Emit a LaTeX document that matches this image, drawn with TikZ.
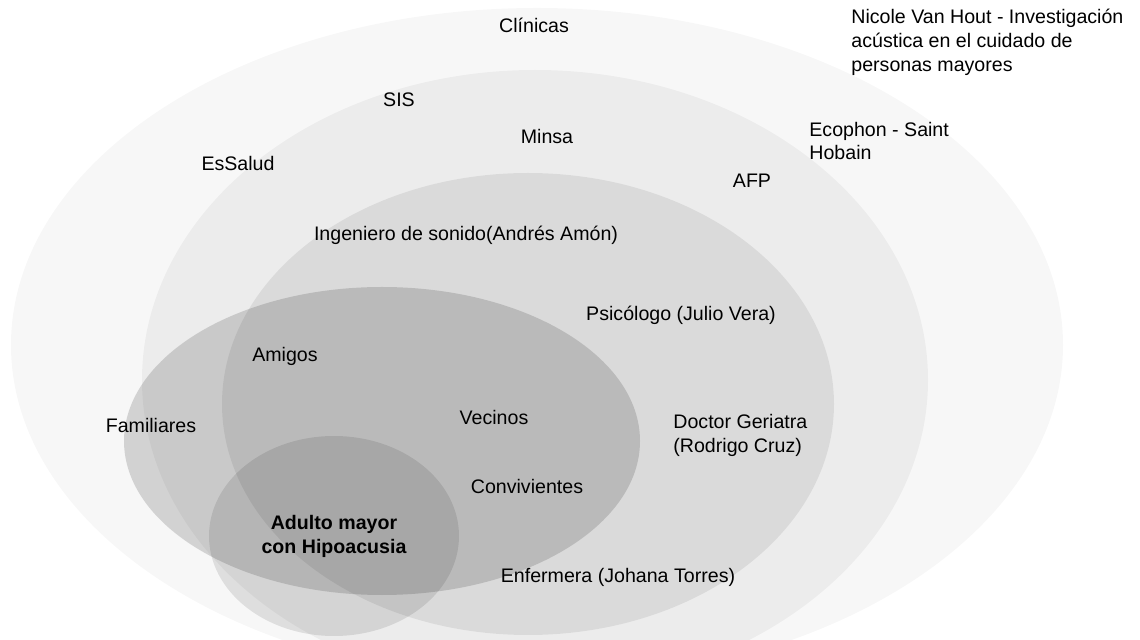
\documentclass[tikz,border=0pt]{standalone}
\usepackage{fontspec}
\setmainfont{Liberation Sans}
\begin{document}
\begin{tikzpicture}[x=0.5pt, y=-0.5pt,
        zone/.style={fill=black, fill opacity=#1},
        lbl/.style={inner sep=0pt, font=\fontsize{9.8}{12}\selectfont, align=left}]
        % Bildbereich
        \useasboundingbox (0,0) rectangle (1140,640);
        \clip (0,0) rectangle (1140,640);
        % Ellipsen zeichnen
        \fill[zone=0.03]  (537,345) ellipse [x radius=526, y radius=337];
        \fill[zone=0.045] (535,380) ellipse [x radius=393, y radius=310];
        \fill[zone=0.076] (528,404) ellipse [x radius=306, y radius=231];
        \fill[zone=0.15]  (382,441) ellipse [x radius=258, y radius=154];
        \fill[zone=0.1]   (334,536) ellipse [x radius=125, y radius=100];
        % Beschriftung
        \node[lbl] (clinicas) at (534,25) {Clínicas};
        \node[lbl, anchor=west] (nicole) at (851,42) {Nicole Van Hout - Investigación\\acústica en el cuidado de\\personas mayores};
        \node[lbl] (sis) at (399,100) {SIS};
        \node[lbl] (minsa) at (547,136) {Minsa};
        \node[lbl] (essalud) at (238,164) {EsSalud};
        \node[lbl, anchor=west] (ecophon) at (809,141) {Ecophon - Saint\\Hobain};
        \node[lbl] (afp) at (752,181) {AFP};
        \node[lbl] (ingeniero) at (466,235) {Ingeniero de sonido(Andrés Amón)};
        \node[lbl] (psicologo) at (681,315) {Psicólogo (Julio Vera)};
        \node[lbl] (amigos) at (285,356) {Amigos};
        \node[lbl] (familiares) at (151,425) {Familiares};
        \node[lbl] (vecinos) at (494,417) {Vecinos};
        \node[lbl, anchor=west] (doctor) at (673,435) {Doctor Geriatra\\(Rodrigo Cruz)};
        \node[lbl] (convivientes) at (527,486) {Convivientes};
        \node[lbl, align=center, font=\fontsize{9.8}{12}\selectfont\bfseries] (adulto) at (334,536) {Adulto mayor\\con Hipoacusia};
        \node[lbl] (enfermera) at (618,577) {Enfermera (Johana Torres)};
    \end{tikzpicture}
\end{document}
